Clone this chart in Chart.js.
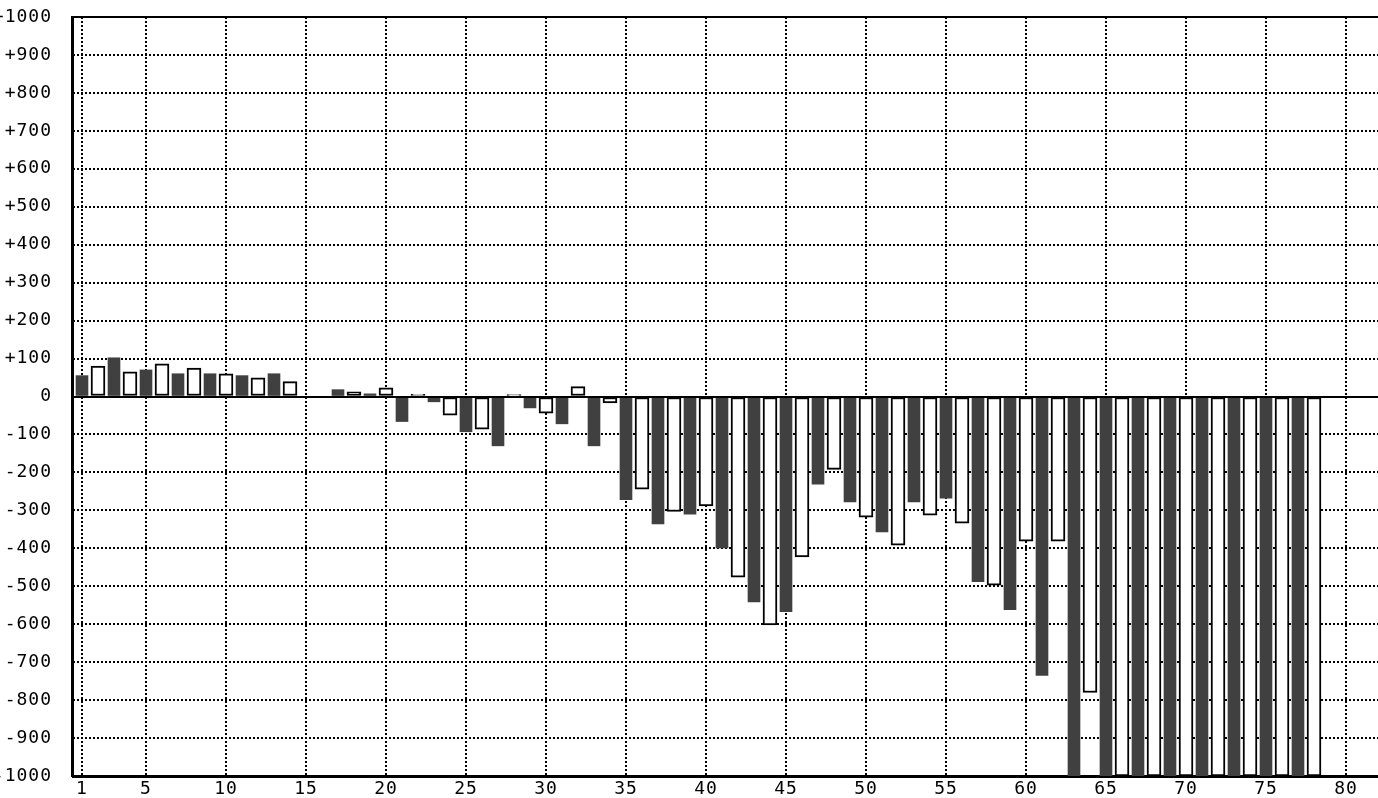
<!DOCTYPE html>
<html>
<head>
<meta charset="utf-8">
<script src="https://cdn.jsdelivr.net/npm/chart.js@4/dist/chart.umd.min.js"></script>
<style>
html,body{margin:0;padding:0;background:#fff;overflow:hidden}
#wrap{width:1378px;height:798px;position:relative}
</style>
</head>
<body>
<div id="wrap"><canvas id="c" width="1378" height="798"></canvas></div>
<script>
// Bar positions 1..78 (odd = dark series, even = white series)
const positions = Array.from({length: 78}, (_, i) => i + 1);
const values = [
   55,   80,  102,   65,   70,   86,   60,   75,   60,   60,
   55,   49,   60,   39,   -3,   -3,   18,   12,    7,   23,
  -66,    6,  -14,  -49,  -93,  -86, -130,    5,  -30,  -44,
  -72,   26, -130,  -17, -272, -244, -336, -303, -310, -288,
 -399, -476, -541, -602, -567, -423, -231, -192, -278, -318,
 -357, -392, -278, -313, -268, -334, -488, -497, -562, -381,
 -735, -381, -1000, -780, -1000, -1000, -1000, -1000, -1000, -1000,
 -1000, -1000, -1000, -1000, -1000, -1000, -1000, -1000
];
const xTicks = [1, 5, 10, 15, 20, 25, 30, 35, 40, 45, 50, 55, 60, 65, 70, 75, 80];
const xMin = 0.375, xMax = 82;
const yMin = -1000, yMax = 1000, yStep = 100;

const points = positions.map((p, i) => ({x: p, y: values[i]}));
const darkPoints = points.filter(d => d.x % 2 === 1);
const whitePoints = points.filter(d => d.x % 2 === 0);

const framePlugin = {
  id: 'frame',
  beforeDraw(chart) { chart.ctx.letterSpacing = '1px'; },
  afterDatasetsDraw(chart) {
    const {ctx, chartArea: a, scales: {y}} = chart;
    ctx.save();
    ctx.fillStyle = '#000';
    const z = Math.round(y.getPixelForValue(0));
    ctx.fillRect(a.left, z - 1, a.right - a.left, 2);
    ctx.fillRect(a.left, a.top - 1, a.right - a.left, 2);
    ctx.fillRect(a.left, a.bottom, a.right - a.left, 2);
    ctx.fillRect(a.left, a.top - 1, 2, a.bottom - a.top + 3);
    ctx.restore();
  }
};

Chart.defaults.font.family = "'DejaVu Sans Mono', monospace";
Chart.defaults.font.size = 18;
Chart.defaults.color = '#000';

new Chart(document.getElementById('c'), {
  type: 'bar',
  data: {
    datasets: [
      {
        data: darkPoints,
        backgroundColor: '#404040',
        borderWidth: 0,
        barThickness: 12,
        grouped: false
      },
      {
        data: whitePoints,
        backgroundColor: '#ffffff',
        borderColor: '#000000',
        borderWidth: 2,
        borderSkipped: false,
        barThickness: 14,
        grouped: false
      }
    ]
  },
  options: {
    responsive: false,
    animation: false,
    layout: {padding: {top: 17, right: 0, bottom: 0, left: 0}},
    plugins: {legend: {display: false}, tooltip: {enabled: false}},
    scales: {
      x: {
        type: 'linear',
        min: xMin,
        max: xMax,
        offset: false,
        afterBuildTicks(scale) { scale.ticks = xTicks.map(v => ({value: v})); },
        afterFit(scale) { scale.height = 22; scale.paddingLeft = 0; scale.paddingRight = 0; },
        ticks: {autoSkip: false, maxRotation: 0, padding: 3, callback: v => String(v)},
        grid: {color: '#000', lineWidth: 2, drawTicks: false, offset: false},
        border: {display: true, color: '#000', width: 2, dash: [2, 2]}
      },
      y: {
        min: yMin,
        max: yMax,
        afterFit(scale) { scale.width = 72; scale.paddingTop = 0; scale.paddingBottom = 0; },
        ticks: {
          stepSize: yStep,
          padding: 20,
          callback: v => (v > 0 ? '+' + v : String(v))
        },
        grid: {color: '#000', lineWidth: 2, drawTicks: false},
        border: {display: true, color: '#000', width: 2, dash: [2, 2]}
      }
    }
  },
  plugins: [framePlugin]
});
</script>
</body>
</html>
